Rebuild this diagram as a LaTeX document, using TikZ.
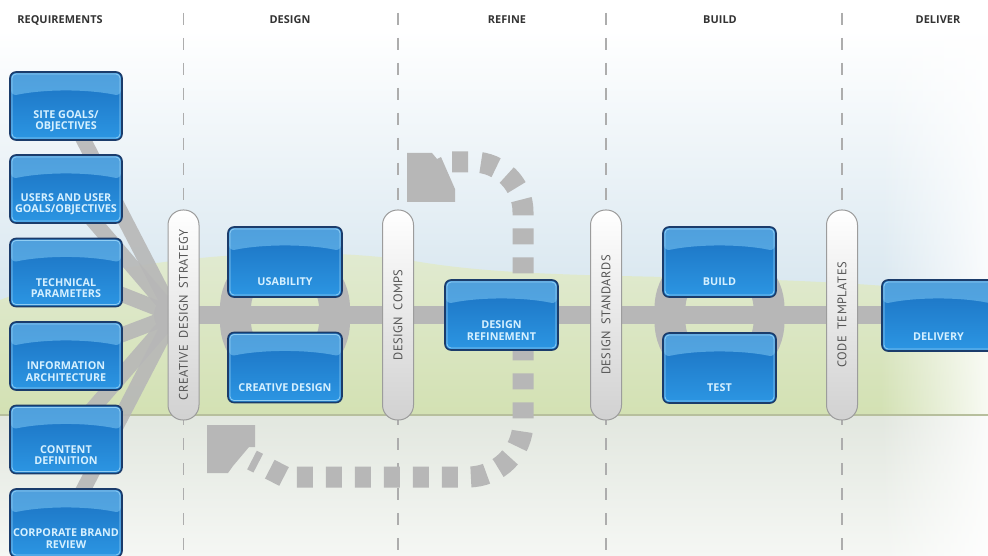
\documentclass[tikz,border=0pt]{standalone}
\usepackage{fontspec}
\setmainfont{PT Sans}
\newfontfamily\pillfont{PT Sans}[LetterSpace=3.5,WordSpace=1.8]
\newfontfamily\boxfont{Open Sans}[LetterSpace=0.3]
\newfontfamily\hdfont{Open Sans}[LetterSpace=0.5]
\usetikzlibrary{calc,fadings}
\definecolor{bxtop}{HTML}{1A70C0}
\definecolor{bxbot}{HTML}{2C96E3}
\definecolor{bxline}{HTML}{1B3C6B}
\definecolor{bxtext}{HTML}{D5F0FF}
\definecolor{gloss}{HTML}{74C0F0}
\definecolor{conn}{HTML}{B7B7B7}
\definecolor{pillline}{HTML}{9C9C9C}
\definecolor{pilltext}{HTML}{555555}
\definecolor{hdtext}{HTML}{333333}
\definecolor{vline}{HTML}{ADADAD}
\definecolor{skyb}{HTML}{D7E6EF}
\definecolor{grnA}{HTML}{E2EBD3}
\definecolor{grnB}{HTML}{D3E1B3}
\definecolor{lowA}{HTML}{E2E7DF}
\definecolor{lowB}{HTML}{F5F7F4}
\definecolor{hline}{HTML}{B7BF9D}
\pgfdeclarelayer{bg}
\pgfdeclarelayer{mid}
\pgfsetlayers{bg,mid,main}
\begin{document}
\begin{tikzpicture}[x=1pt,y=-1pt,
  bbox/.style={draw=bxline, line width=1.6pt, rounded corners=6pt,
    top color=bxtop, bottom color=bxbot, inner sep=0pt,
    minimum width=112pt, minimum height=68pt,
    path picture={
      \fill[gloss, fill opacity=0.6]
        ([xshift=1pt,yshift=-1pt]path picture bounding box.north west) --
        ([xshift=-1pt,yshift=-1pt]path picture bounding box.north east) --
        ([xshift=-1pt,yshift=-24pt]path picture bounding box.north east) ..
        controls ([xshift=-35pt,yshift=-17pt]path picture bounding box.north east)
        and ([xshift=35pt,yshift=-17pt]path picture bounding box.north west) ..
        ([xshift=1pt,yshift=-24pt]path picture bounding box.north west) -- cycle;
      \draw[gloss!80!white, line width=0.8pt, rounded corners=4pt]
        ([xshift=2pt,yshift=-2pt]path picture bounding box.north west) rectangle
        ([xshift=-2pt,yshift=2pt]path picture bounding box.south east);
    }},
  btext/.style={text=bxtext, font=\boxfont\bfseries\fontsize{10.8}{11.4}\selectfont, align=center},
  pill/.style={draw=pillline, line width=1pt, rounded corners=15pt, rotate=90,
    minimum width=210pt, minimum height=31pt, inner sep=0pt,
    top color=white, bottom color=black!18, text=pilltext,
    font=\pillfont\fontsize{12.5}{13}\selectfont},
  hd/.style={text=hdtext, font=\hdfont\bfseries\fontsize{10.9}{12}\selectfont},
  vdiv/.style={draw=vline, line width=1.1pt, dash pattern=on 12pt off 13pt},
  fan/.style={draw=conn, line width=15pt, opacity=0.9},
  bar/.style={draw=conn, line width=18pt},
  ring/.style={draw=conn, line width=31pt, rounded corners=48pt},
  loopline/.style={draw=conn, line width=21pt, dash pattern=on 16pt off 13pt},
  loophead/.style={fill=conn}
]
\useasboundingbox (0,0) rectangle (988,556);

% ---------- background ----------
\begin{pgfonlayer}{bg}
\fill[white] (0,0) rectangle (988,556);
\shade[top color=white, bottom color=skyb] (0,30) rectangle (988,305);
\shade[top color=grnA, bottom color=grnB]
  (0,300) .. controls (100,262) and (280,240) .. (420,262)
  .. controls (560,285) and (760,268) .. (988,296) -- (988,415) -- (0,415) -- cycle;
\shade[top color=lowA, bottom color=lowB] (0,415) rectangle (988,556);
\fill[white, path fading=west, fill opacity=0.85] (880,0) rectangle (988,556);
\draw[hline, line width=1.5pt] (0,415) -- (988,415);
\end{pgfonlayer}

% ---------- nodes ----------
\begin{scope}
\clip (0,0) rectangle (988,556);
\node[hd] (h1) at (60,20) {REQUIREMENTS};
\node[hd] (h2) at (290,20) {DESIGN};
\node[hd] (h3) at (507,20) {REFINE};
\node[hd] (h4) at (720,20) {BUILD};
\node[hd] (h5) at (938,20) {DELIVER};

\node[bbox, label={[btext,yshift=-15.5pt]center:{SITE GOALS/\\OBJECTIVES}}] (r1) at (66,106) {};
\node[bbox, label={[btext,yshift=-15.5pt]center:{USERS AND USER\\GOALS/OBJECTIVES}}] (r2) at (66,189) {};
\node[bbox, label={[btext,yshift=-15.5pt]center:{TECHNICAL\\PARAMETERS}}] (r3) at (66,272.5) {};
\node[bbox, label={[btext,yshift=-15.5pt]center:{INFORMATION\\ARCHITECTURE}}] (r4) at (66,356) {};
\node[bbox, label={[btext,yshift=-15.5pt]center:{CONTENT\\DEFINITION}}] (r5) at (66,439.5) {};
\node[bbox, label={[btext,yshift=-15.5pt]center:{CORPORATE BRAND\\REVIEW}}] (r6) at (66,523) {};

\node[bbox, minimum width=114pt, minimum height=70pt, label={[btext,yshift=-20pt]center:USABILITY}] (us) at (285,262) {};
\node[bbox, minimum width=114pt, minimum height=70pt, label={[btext,yshift=-20pt]center:CREATIVE DESIGN}] (cd) at (285,367.5) {};
\node[bbox, minimum width=113pt, minimum height=70pt, label={[btext,yshift=-15.5pt]center:{DESIGN\\REFINEMENT}}] (dr) at (501.5,315) {};
\node[bbox, minimum width=113pt, minimum height=70pt, label={[btext,yshift=-20pt]center:BUILD}] (bu) at (719.5,262) {};
\node[bbox, minimum width=113pt, minimum height=70pt, label={[btext,yshift=-20pt]center:TEST}] (te) at (719.5,368) {};
\node[bbox, minimum width=113pt, minimum height=71pt, label={[btext,yshift=-21pt]center:DELIVERY}] (dl) at (938.5,315.5) {};

\node[pill] (p1) at (183.5,315) {CREATIVE DESIGN STRATEGY};
\node[pill] (p2) at (398,315) {DESIGN COMPS};
\node[pill] (p3) at (606,315) {DESIGN STANDARDS};
\node[pill] (p4) at (842,315) {CODE TEMPLATES};
\end{scope}

% ---------- connectors ----------
\begin{pgfonlayer}{mid}
\foreach \p in {p1,p2,p3,p4}
  \draw[vdiv] (\p.center |- 0,13) -- (\p.center |- 0,556);
\coordinate (conv) at (174,315);
\fill[conn] (conv) circle (20pt);
\foreach \b in {r1,r2,r3,r4,r5,r6}
  \draw[fan] (\b.center) -- (conv);
\draw[bar] (p1.center) -- (dl.center |- p1.center);
\draw[ring] ($(us.center)+(-49.5,-2)$) rectangle ($(cd.center)+(49.5,2.5)$);
\draw[ring] ($(bu.center)+(-49.5,-2)$) rectangle ($(te.center)+(49.5,2)$);
\coordinate (lt) at (452,162);
\coordinate (lb) at (252,460);
\draw[loopline] (lt) -- (473,162) arc[start angle=-90,end angle=0,radius=50]
  -- (523,422) arc[start angle=0,end angle=90,radius=55] -- (285,477) -- (lb);
\fill[loophead] (407,153) -- (432,153) -- (437,159) -- (441,157) -- (455,189)
  -- (455,202) -- (407,202) -- cycle;
\fill[loophead] (207,425) -- (255,425) -- (255,447) -- (249,447) -- (233,466)
  -- (228,473) -- (207,473) -- cycle;
\end{pgfonlayer}
\end{tikzpicture}
\end{document}
